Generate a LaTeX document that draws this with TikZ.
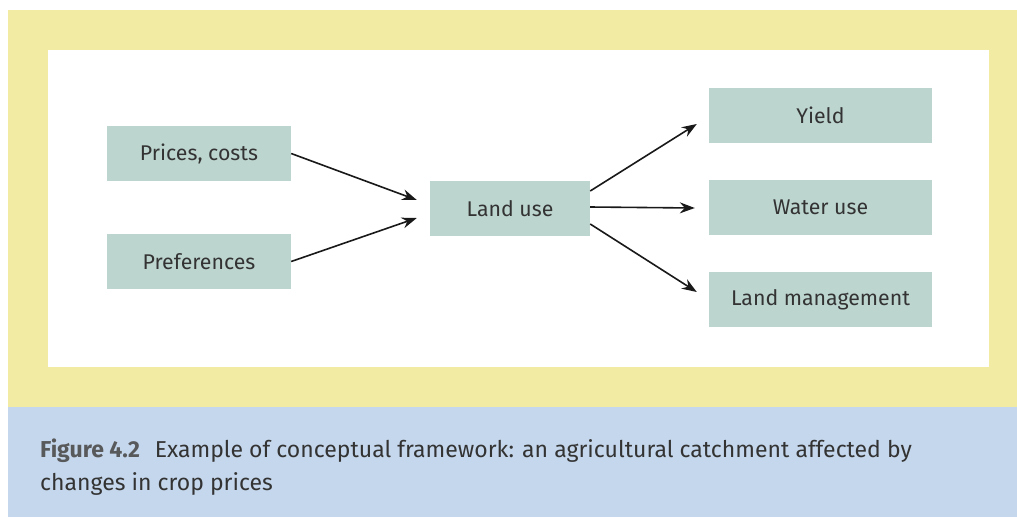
\documentclass[tikz,border=0pt]{standalone}
\usepackage{fontspec}
\setmainfont{Fira Sans}
\usetikzlibrary{arrows.meta,calc}
\definecolor{frameyellow}{HTML}{F2EBA3}
\definecolor{capblue}{HTML}{C5D7EC}
\definecolor{boxgreen}{HTML}{BDD5CF}
\definecolor{txt}{HTML}{333333}
\definecolor{figgray}{HTML}{58595B}
\tikzset{
  box/.style={fill=boxgreen, draw=none, minimum height=55pt, inner sep=0pt, text=txt, font=\fontsize{21.3}{24}\selectfont},
  conn/.style={line width=1.6pt, draw=black!90, -{Stealth[length=15pt,width=11pt,inset=5pt]}},
  captext/.style={anchor=base west, inner sep=0pt, text=txt, font=\fontsize{23}{26}\selectfont}
}
\begin{document}
\begin{tikzpicture}[x=1pt,y=-1pt]
\useasboundingbox (0,0) rectangle (1017,517);
\fill[frameyellow] (8,10) rectangle (1017,407);
\fill[white] (48,50) rectangle (989,367);
\fill[capblue] (8,407) rectangle (1017,517);
\node[box, minimum width=184pt] (prices) at (199,153.5) {Prices, costs};
\node[box, minimum width=184pt] (prefs) at (199,261.5) {Preferences};
\node[box, minimum width=160pt] (landuse) at (510,208.5) {Land use};
\node[box, minimum width=223pt] (yield) at (820.5,115.5) {Yield};
\node[box, minimum width=223pt] (water) at (820.5,207.5) {Water use};
\node[box, minimum width=223pt] (landmgmt) at (820.5,299.5) {Land management};
\draw[conn] (prices.east) -- ($(landuse.west)+(-13,-8.5)$);
\draw[conn] (prefs.east) -- ($(landuse.west)+(-13,9.5)$);
\draw[conn] ($(landuse.east)+(0,-17.5)$) -- ($(yield.west)+(-12,8.5)$);
\draw[conn] ($(landuse.east)+(0,-1.5)$) -- ($(water.west)+(-14,0.5)$);
\draw[conn] ($(landuse.east)+(0,15.5)$) -- ($(landmgmt.west)+(-12,-7.5)$);
\node[captext] (cap1) at (40,457) {{\color{figgray}\bfseries Figure 4.2}\hspace{15pt}Example of conceptual framework: an agricultural catchment affected by};
\node[captext] (cap2) at (40,490) {changes in crop prices};
\end{tikzpicture}
\end{document}
